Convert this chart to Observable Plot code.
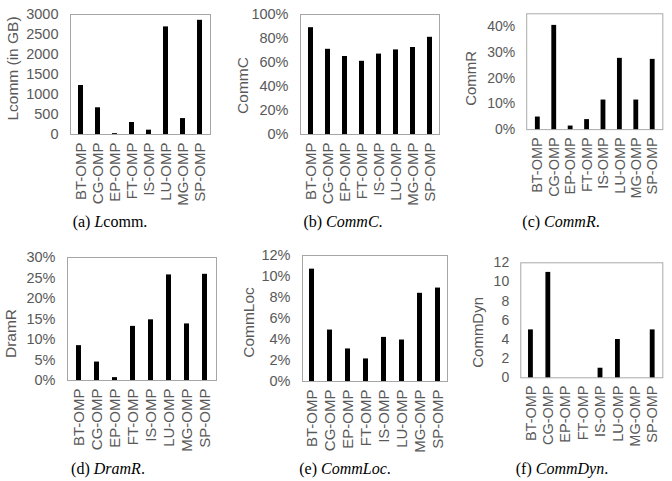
<!DOCTYPE html>
<html><head><meta charset="utf-8">
<script src="https://cdn.jsdelivr.net/npm/d3@7"></script>
<script src="https://cdn.jsdelivr.net/npm/@observablehq/plot@0.6"></script>
<style>
body{margin:0;background:#fff;}
#root{position:relative;width:672px;height:481px;overflow:hidden;background:#fff;}
.panel{position:absolute;}
.cap{position:absolute;font-family:"Liberation Serif","Times New Roman",serif;font-size:16px;color:#000;white-space:nowrap;transform:translate(-50%,-50%);}
</style></head><body><div id="root"></div>
<script>
const categories = ["BT-OMP","CG-OMP","EP-OMP","FT-OMP","IS-OMP","LU-OMP","MG-OMP","SP-OMP"];
const lcomm   = [1225, 668, 22, 300, 108, 2690, 398, 2855];
const commC   = [0.89, 0.71, 0.65, 0.61, 0.67, 0.705, 0.725, 0.81];
const commR   = [0.049, 0.405, 0.014, 0.039, 0.115, 0.277, 0.115, 0.273];
const dramR   = [0.085, 0.045, 0.007, 0.132, 0.148, 0.2575, 0.138, 0.259];
const commLoc = [0.107, 0.049, 0.031, 0.0215, 0.042, 0.0395, 0.084, 0.089];
const commDyn = [5, 11, 0, 0, 1, 4, 0, 5];

const ticksLcomm   = [0, 500, 1000, 1500, 2000, 2500, 3000];
const ticksCommC   = [0, 0.2, 0.4, 0.6, 0.8, 1.0];
const ticksCommR   = [0, 0.1, 0.2, 0.3, 0.4];
const ticksDramR   = [0, 0.05, 0.10, 0.15, 0.20, 0.25, 0.30];
const ticksCommLoc = [0, 0.02, 0.04, 0.06, 0.08, 0.10, 0.12];
const ticksCommDyn = [0, 2, 4, 6, 8, 10, 12];

const yLabels = ["Lcomm (in GB)", "CommC", "CommR", "DramR", "CommLoc", "CommDyn"];
const captions = ["(a) <i>L</i>comm.", "(b) <i>CommC</i>.", "(c) <i>CommR</i>.", "(d) <i>DramR</i>.", "(e) <i>CommLoc</i>.", "(f) <i>CommDyn</i>."];

const pct = d3.format(".0%");
const GRAY = "#595959";

const panels = [
  {values: lcomm,   ticks: ticksLcomm,   domain: [0, 3000], fmt: d => String(d), frame: [70, 210, 14, 134],  lab: [12.5, 68],  cap: [110, 222]},
  {values: commC,   ticks: ticksCommC,   domain: [0, 1],    fmt: pct, frame: [300, 439, 14, 134], lab: [242.5, 85], cap: [343, 222]},
  {values: commR,   ticks: ticksCommR,   domain: [0, 0.45], fmt: pct, frame: [529, 670, 14, 134], lab: [472, 81],   cap: [561, 222]},
  {values: dramR,   ticks: ticksDramR,   domain: [0, 0.30], fmt: pct, frame: [67, 216, 257, 380], lab: [11, 333],   cap: [108, 469]},
  {values: commLoc, ticks: ticksCommLoc, domain: [0, 0.12], fmt: pct, frame: [302, 447, 255, 381], lab: [249, 322], cap: [345, 469]},
  {values: commDyn, ticks: ticksCommDyn, domain: [0, 12],   fmt: d => String(d), frame: [523, 670, 263, 382], lab: [479, 335], cap: [562, 469]}
];

const root = document.getElementById("root");
const ML = 80, MR = 10, MT = 20, MB = 90;

panels.forEach((p, i) => {
  const [x0, x1, y0, y1] = p.frame;
  const fw = x1 - x0, fh = y1 - y0;
  const data = categories.map((c, j) => ({cat: c, v: p.values[j]}));
  const chart = Plot.plot({
    width: ML + fw + MR,
    height: MT + fh + MB,
    marginLeft: ML, marginRight: MR, marginTop: MT, marginBottom: MB,
    style: {background: "transparent", overflow: "visible", fontFamily: "'Liberation Sans', Arial, sans-serif", color: GRAY},
    x: {domain: categories, paddingInner: 0.71, paddingOuter: 0.355, axis: null},
    y: {domain: p.domain, axis: null},
    marks: [
      Plot.frame({stroke: "#a6a6a6", strokeWidth: 1}),
      Plot.barY(data, {x: "cat", y: "v", fill: "black"}),
      Plot.axisY({ticks: p.ticks, tickFormat: p.fmt, tickSize: 0, tickPadding: 12, fontSize: 14.5, label: null, fill: GRAY}),
      Plot.axisX({tickRotate: -90, tickSize: 0, tickPadding: 8, fontSize: 15, label: null, fill: GRAY}),
      Plot.text([yLabels[i]], {frameAnchor: "left", text: d => d, rotate: -90, textAnchor: "middle", lineAnchor: "middle", dx: p.lab[0] - x0, dy: p.lab[1] - (y0 + y1) / 2, fontSize: 15.5, fill: GRAY})
    ]
  });
  const div = document.createElement("div");
  div.className = "panel";
  div.style.left = (x0 - ML) + "px";
  div.style.top = (y0 - MT) + "px";
  div.appendChild(chart);
  root.appendChild(div);

  const cap = document.createElement("div");
  cap.className = "cap";
  cap.style.left = p.cap[0] + "px";
  cap.style.top = p.cap[1] + "px";
  cap.innerHTML = captions[i];
  root.appendChild(cap);
});
</script>
</body></html>
